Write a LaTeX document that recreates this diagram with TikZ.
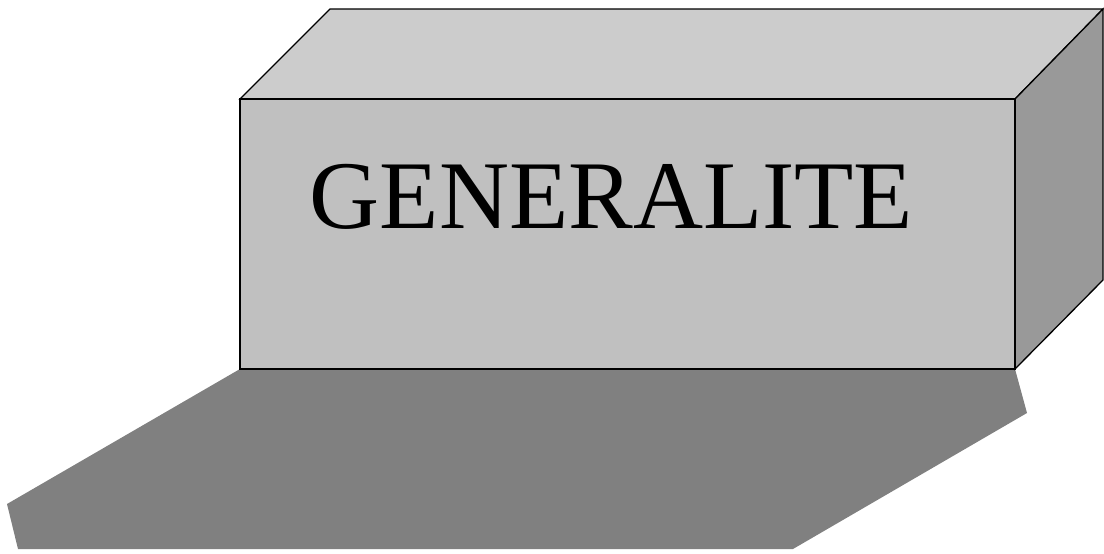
\documentclass[tikz,border=0pt]{standalone}
\usepackage{fontspec}
\setmainfont{Liberation Serif}
\usepackage{xcolor}
\usepackage{tikz}
\usetikzlibrary{calc, positioning}

\definecolor{faceavant}{HTML}{C0C0C0}
\definecolor{facehaut}{HTML}{CCCCCC}
\definecolor{facedroite}{HTML}{999999}
\definecolor{ombre}{HTML}{808080}

\tikzset{
    face/.style={draw=black, line width=1.3pt, line join=miter},
    titre/.style={font=\fontsize{97}{100}\selectfont, text=black, inner sep=0pt, anchor=base}
}

\begin{document}
\begin{tikzpicture}[x=1pt, y=-1pt]
    % Cadre de l'image
    \useasboundingbox (0,0) rectangle (1104,554);

    % Sommets du pave
    \coordinate (AvHG) at (240,99);
    \coordinate (AvHD) at (1015,99);
    \coordinate (AvBD) at (1015,369);
    \coordinate (AvBG) at (240,369);
    \coordinate (ArHG) at (330,9);
    \coordinate (ArHD) at (1103,9);
    \coordinate (ArBD) at (1103,280);

    % Ombre portee sur le sol
    \fill[ombre] (AvBG) -- (7,504) -- (18,549) -- (793,549) -- (1027,413) -- (AvBD) -- cycle;

    % Les trois faces visibles
    \filldraw[face, fill=facehaut] (AvHG) -- (ArHG) -- (ArHD) -- (AvHD) -- cycle;
    \filldraw[face, fill=facedroite] (AvHD) -- (ArHD) -- (ArBD) -- (AvBD) -- cycle;
    \filldraw[face, fill=faceavant] (AvHG) rectangle (AvBD);

    % Texte sur la face avant
    \node[titre] (generalite) at (611.5,228) {GENERALITE};
\end{tikzpicture}
\end{document}
